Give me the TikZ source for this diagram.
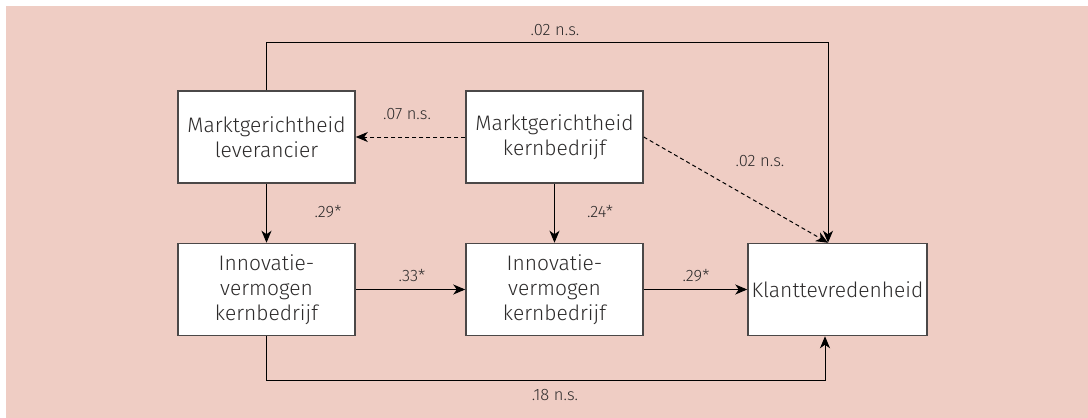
\documentclass[tikz,border=0pt]{standalone}
\usepackage{fontspec}
\setmainfont{Fira Sans}[UprightFont=* Light]
\usepackage{tikz}
\usetikzlibrary{arrows.meta}
\definecolor{bgpink}{RGB}{239,205,196}
\definecolor{boxline}{RGB}{75,72,72}
\definecolor{txt}{RGB}{45,43,43}

\begin{document}
\begin{tikzpicture}[x=1pt,y=-1pt]
		\tikzset{factor/.style={draw=boxline,fill=white,line width=1.5pt,minimum width=177pt,minimum height=92pt,inner sep=2pt,align=center,text=txt,font=\fontsize{21}{25}\selectfont}};
		\tikzset{coef/.style={text=txt,font=\fontsize{16.5}{19}\selectfont,inner sep=1pt}};
		\tikzset{path/.style={-{Stealth[length=12pt,width=10pt,inset=3.5pt]},line width=1pt,black}};
		\tikzset{nspath/.style={path,dash pattern=on 4pt off 3pt}};
		\useasboundingbox (0,0) rectangle (1088,418);
		\fill[bgpink] (6,6) rectangle (1088,418);
		\node[factor] (ml) at (266.5,137) {Marktgerichtheid\\leverancier};
		\node[factor] (mk) at (554.5,137) {Marktgerichtheid\\kernbedrijf};
		\node[factor] (il) at (266.5,289.5) {Innovatie-\\vermogen\\kernbedrijf};
		\node[factor] (ik) at (554.5,289.5) {Innovatie-\\vermogen\\kernbedrijf};
		\node[factor,minimum width=179pt] (kt) at (837.5,289.5) {Klanttevredenheid};
		\coordinate (top) at (828,42);
		\coordinate (bot) at (825,380);
		\draw[path] (ml.north) -- (ml.north |- top) -- (top) -- (top |- kt.north);
		\draw[nspath] (mk.west) -- (ml.east);
		\draw[nspath] (mk.east) -- (top |- kt.north);
		\draw[path] (ml.south) -- (il.north);
		\draw[path] (mk.south) -- (ik.north);
		\draw[path] (il.east) -- (ik.west);
		\draw[path] (ik.east) -- (kt.west);
		\draw[path] (il.south) -- (il.south |- bot) -- (bot) -- (bot |- kt.south);
		\node[coef] (ctop) at (555,30) {.02 n.s.};
		\node[coef] (cml) at (407,114) {.07 n.s.};
		\node[coef] (cdiag) at (760,161) {.02 n.s.};
		\node[coef] (cil) at (328,212) {.29*};
		\node[coef] (cik) at (600,212) {.24*};
		\node[coef] (cmid) at (412,276) {.33*};
		\node[coef] (ckt) at (696,276) {.29*};
		\node[coef] (cbot) at (555,395) {.18 n.s.};
	\end{tikzpicture}
\end{document}
